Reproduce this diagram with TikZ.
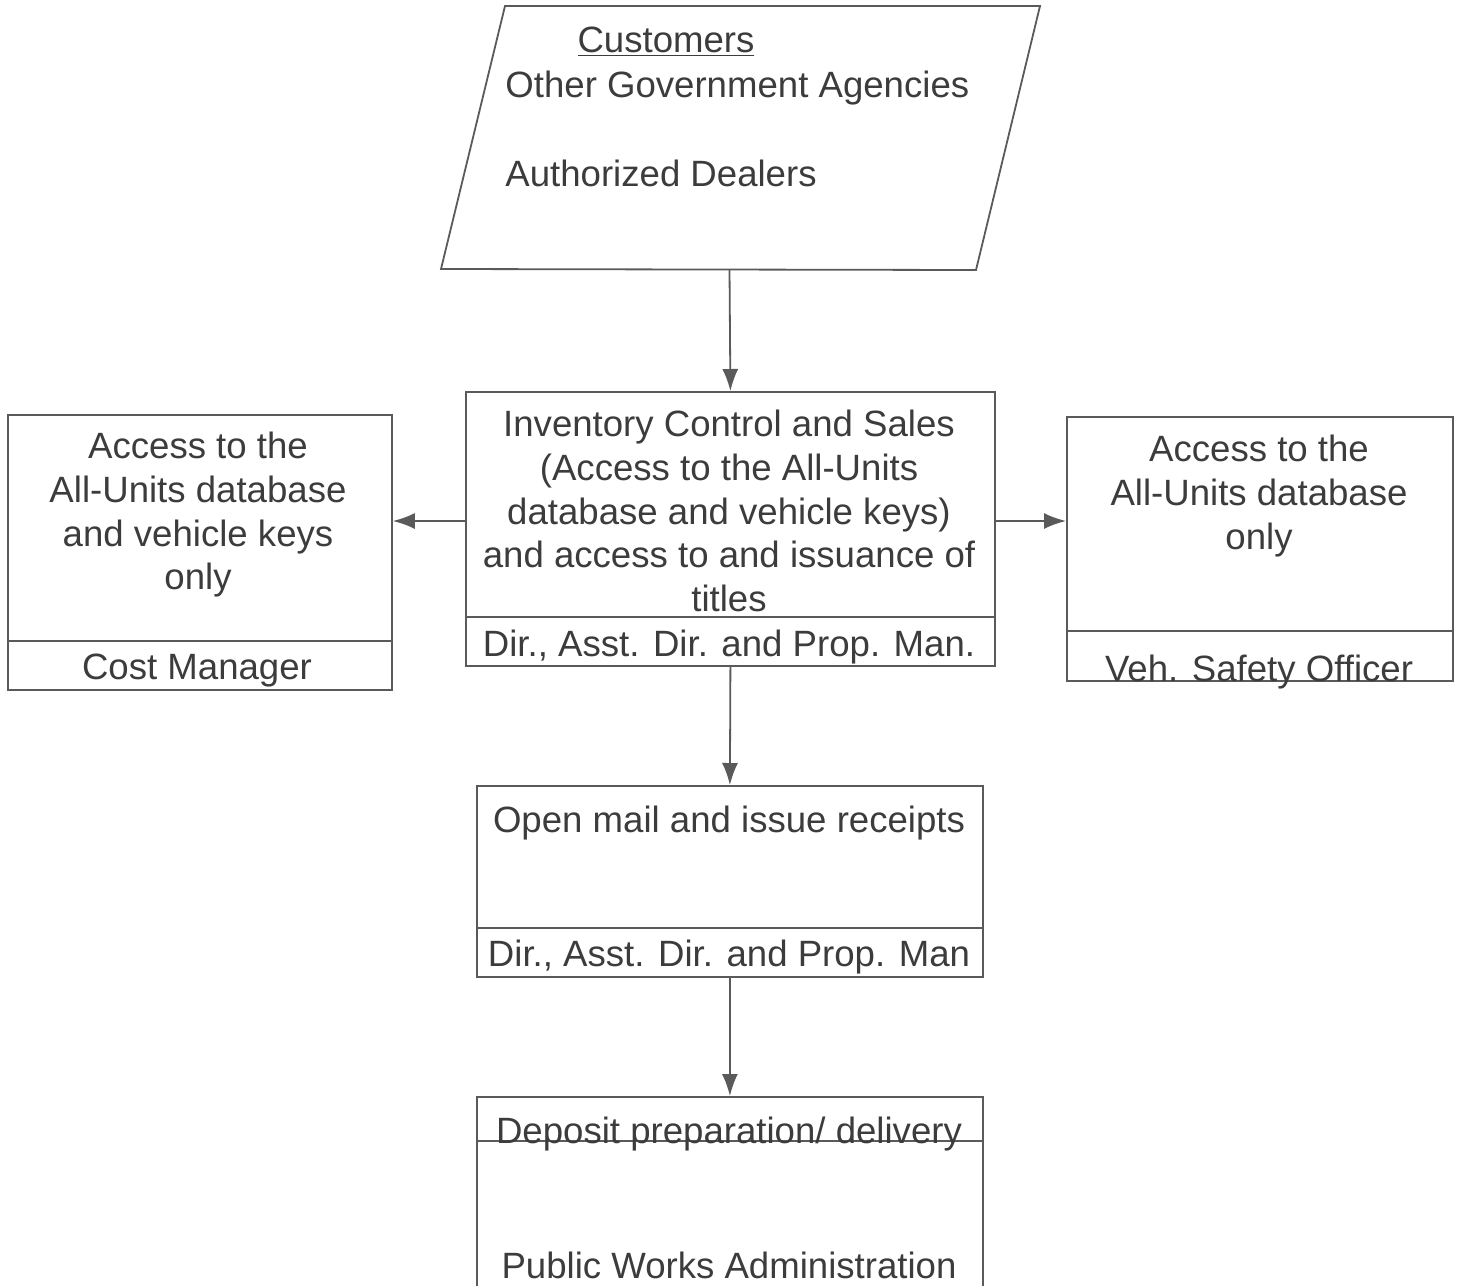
\documentclass[tikz,border=0pt]{standalone}
\usepackage{fontspec}
\setmainfont{Liberation Sans}
\usetikzlibrary{arrows.meta}
\definecolor{linegray}{HTML}{5A5A5A}
\definecolor{inkgray}{HTML}{3C3C3C}
\newcommand{\chartfont}{\fontsize{18.3}{21.9}\selectfont}
\tikzset{
	unitbox/.style={draw=linegray, line width=0.9pt, inner sep=0pt, anchor=north west},
	rule/.style={draw=linegray, line width=0.9pt},
	txt/.style={text=inkgray, font=\chartfont, inner sep=0pt, align=center, anchor=north, execute at begin node=\strut},
	flow/.style={draw=linegray, line width=0.9pt, -{Latex[length=11pt,width=8pt]}}
}
\begin{document}
\begin{tikzpicture}[x=0.5pt, y=-0.5pt]
				\useasboundingbox (0,0) rectangle (1459,1285);
				
				% 1. customer parallelogram
				\draw[rule] (505,6) -- (1040,6) -- (976,270) -- (441,269) -- cycle;
				\coordinate (custfoot) at (729.5,269.5);
				\node[txt] (cust1) at (666,21.5) {\underline{Customers}};
				\node[txt, anchor=north west] (cust2) at (505,66.5) {Other Government Agencies};
				\node[txt, anchor=north west] (cust3) at (505,155.5) {Authorized Dealers};
				
				% 2. unit boxes
				\node[unitbox, minimum width=264.5pt, minimum height=137pt] (inv) at (465,391) {};
				\node[unitbox, minimum width=192pt, minimum height=137.5pt] (cost) at (7,414) {};
				\node[unitbox, minimum width=193pt, minimum height=132pt] (safety) at (1066,416) {};
				\node[unitbox, minimum width=253pt, minimum height=95.5pt] (mail) at (476,785) {};
				\node[unitbox, minimum width=253pt, minimum height=110pt] (deposit) at (476,1096) {};
				
				% 3. dividers
				\draw[rule] (inv.west |- 0,617) -- (inv.east |- 0,617);
				\draw[rule] (cost.west |- 0,641) -- (cost.east |- 0,641);
				\draw[rule] (safety.west |- 0,631) -- (safety.east |- 0,631);
				\draw[rule] (mail.west |- 0,928) -- (mail.east |- 0,928);
				\draw[rule] (deposit.west |- 0,1141) -- (deposit.east |- 0,1141);
				
				% 4. box texts
				\node[txt] (invtext) at (729,409.5) {Inventory Control and Sales\\(Access to the All-Units\\database and vehicle keys)\\and access to and issuance of\\titles};
				\node[txt] (invrole) at (729,625.5) {Dir., Asst. Dir. and Prop. Man.};
				\node[txt] (costtext) at (198,431.5) {Access to the\\All-Units database\\and vehicle keys\\only};
				\node[txt] (costrole) at (197,648) {Cost Manager};
				\node[txt] (safetytext) at (1259,434.5) {Access to the\\All-Units database\\only};
				\node[txt] (safetyrole) at (1259,650) {Veh. Safety Officer};
				\node[txt] (mailtext) at (729,801.5) {Open mail and issue receipts};
				\node[txt] (mailrole) at (729,935.5) {Dir., Asst. Dir. and Prop. Man};
				\node[txt] (deposittext) at (729,1112.5) {Deposit preparation/ delivery};
				\node[txt] (depositrole) at (729,1247.5) {Public Works Administration};
				
				% 5. connectors
				\coordinate (midrow) at (0,521);
				\draw[flow] (custfoot) -- (inv.north);
				\draw[flow] (inv.west |- midrow) -- (cost.east |- midrow);
				\draw[flow] (inv.east |- midrow) -- (safety.west |- midrow);
				\draw[flow] (inv.south) -- (mail.north);
				\draw[flow] (mail.south) -- (deposit.north);
			\end{tikzpicture}
\end{document}
